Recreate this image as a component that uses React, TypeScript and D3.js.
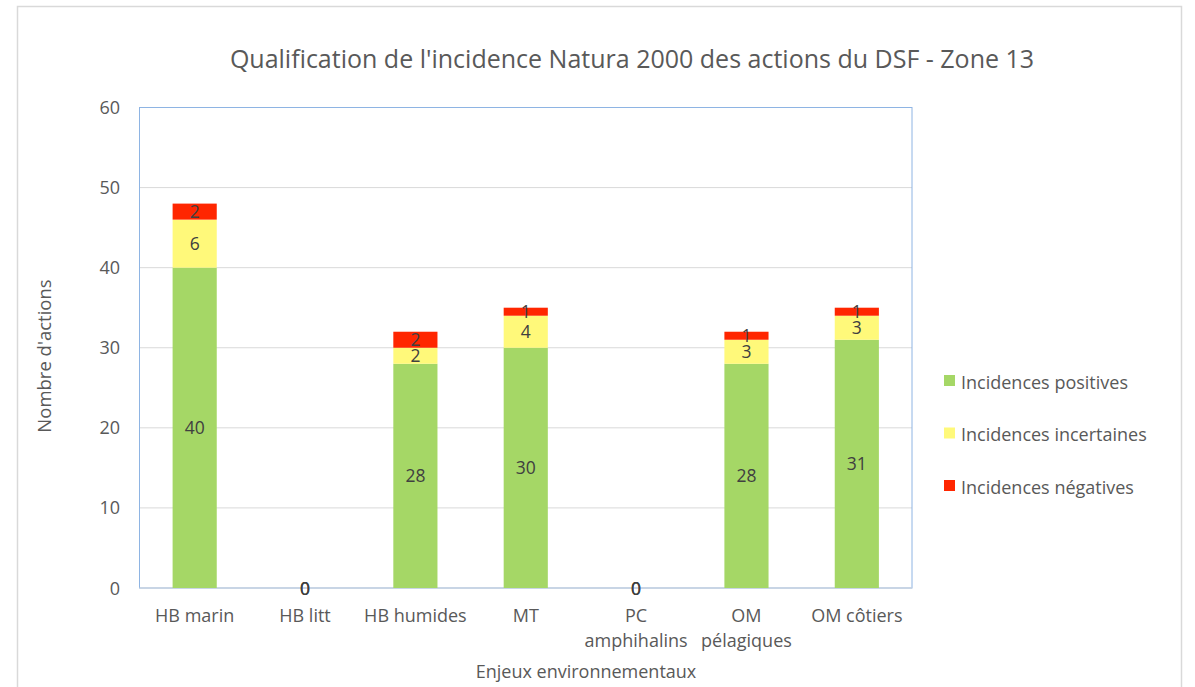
import React from "react";
import * as d3 from "d3";

const categories: string[][] = [
  ["HB marin"],
  ["HB litt"],
  ["HB humides"],
  ["MT"],
  ["PC", "amphihalins"],
  ["OM", "pélagiques"],
  ["OM côtiers"],
];
const positives = [40, 0, 28, 30, 0, 28, 31];
const incertaines = [6, 0, 2, 4, 0, 3, 3];
const negatives = [2, 0, 2, 1, 0, 1, 1];
const seriesNames = ["Incidences positives", "Incidences incertaines", "Incidences négatives"];
const seriesColors = ["#A5D766", "#FFF97A", "#FF2600"];
const yTicks = [0, 10, 20, 30, 40, 50, 60];

const W = 1195;
const H = 687;
const FONT = "'Open Sans', sans-serif";

export default function App() {
  const left = 139.5, right = 912, top = 107.5, bottom = 588;
  const x = d3.scaleBand<number>().domain(d3.range(categories.length)).range([left, right]).paddingInner(0.6).paddingOuter(0.3);
  const y = d3.scaleLinear().domain([0, 60]).range([bottom, top]);
  const rows = categories.map((_, i) => ({ i, p: positives[i], u: incertaines[i], n: negatives[i] }));
  const stack = d3.stack<any>().keys(["p", "u", "n"])(rows);

  return (
    <svg width={W} height={H} style={{ position: "absolute", left: 0, top: 0, fontFamily: FONT }}>
      <rect x={0} y={0} width={W} height={H} fill="#fff" />
      <rect x={17.5} y={6.5} width={1164} height={700} fill="#fff" stroke="#d9d9d9" strokeWidth={1.5} />
      <text x={632} y={68} textAnchor="middle" fontSize={25} fill="#595959">
        Qualification de l'incidence Natura 2000 des actions du DSF - Zone 13
      </text>
      {yTicks.map((t) => (
        <g key={t}>
          {t > 0 && t < 60 && (
            <line x1={left} x2={right} y1={y(t)} y2={y(t)} stroke="#d9d9d9" strokeWidth={1} />
          )}
          <text x={120} y={y(t) + 6.5} textAnchor="end" fontSize={18} fill="#595959">
            {t}
          </text>
        </g>
      ))}
      <rect x={left} y={top} width={right - left} height={bottom - top} fill="none" stroke="#8EB4E3" strokeWidth={1} />
      <line x1={left} x2={right} y1={bottom} y2={bottom} stroke="#c8d3e0" strokeWidth={1.5} />
      {stack.map((s, si) =>
        s.map((d, i) => (
          <rect
            key={si + "-" + i}
            x={x(i)!}
            width={x.bandwidth()}
            y={y(d[1])}
            height={y(d[0]) - y(d[1])}
            fill={seriesColors[si]}
          />
        ))
      )}
      {stack.map((s, si) =>
        s.map((d, i) => (
          <text
            key={"l" + si + "-" + i}
            x={x(i)! + x.bandwidth() / 2}
            y={y((d[0] + d[1]) / 2) + 6.5}
            textAnchor="middle"
            fontSize={17.5}
            fill="#404040"
          >
            {d[1] - d[0]}
          </text>
        ))
      )}
      {categories.map((lines, i) => (
        <text key={"c" + i} x={x(i)! + x.bandwidth() / 2} y={622} textAnchor="middle" fontSize={18} fill="#595959">
          {lines.map((l, k) => (
            <tspan key={k} x={x(i)! + x.bandwidth() / 2} dy={k === 0 ? 0 : 25}>
              {l}
            </tspan>
          ))}
        </text>
      ))}
      <text x={586} y={678} textAnchor="middle" fontSize={18} fill="#595959">
        Enjeux environnementaux
      </text>
      <text transform="translate(51,356) rotate(-90)" textAnchor="middle" fontSize={18.5} fill="#595959">
        Nombre d'actions
      </text>
      {seriesNames.map((n, k) => (
        <g key={n} transform={`translate(944,${382 + k * 52.5})`}>
          <rect x={0} y={-7} width={11} height={11} fill={seriesColors[k]} />
          <text x={17} y={6.5} fontSize={18} fill="#595959">
            {n}
          </text>
        </g>
      ))}
    </svg>
  );
}
